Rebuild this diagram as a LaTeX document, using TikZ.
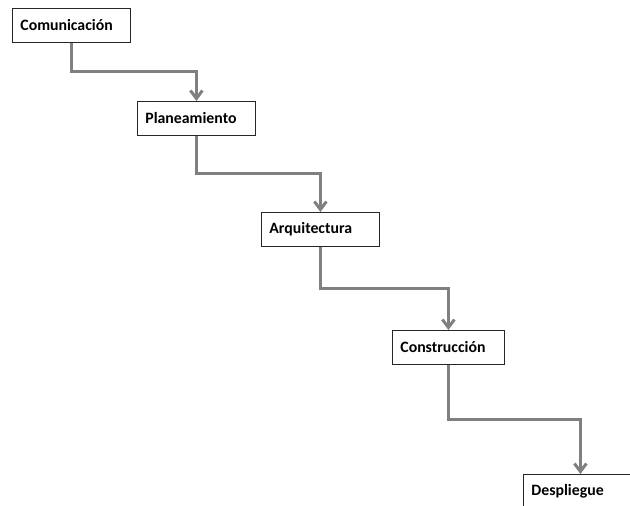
\documentclass[tikz,border=0pt]{standalone}
\usepackage{fontspec}
\setmainfont{Carlito}
\usetikzlibrary{arrows.meta,calc}
\begin{document}
\begin{tikzpicture}[x=1pt, y=-1pt, >={Straight Barb[length=8pt,width=12pt]},
  fase/.style={draw=black!85, line width=.8pt, fill=white, anchor=north west,
    minimum height=34pt, inner xsep=8pt, text width=#1, align=left,
    font=\fontsize{15.8}{18}\selectfont\bfseries},
  fase/.default=102pt,
  flujo/.style={->, draw=black!50, line width=3pt}]
\useasboundingbox (0,0) rectangle (630,506);
\node[fase] (com) at (12,8) {Comunicación};
\node[fase] (plan) at (137,101) {Planeamiento};
\node[fase] (arq) at (261,212) {Arquitectura};
\node[fase=96pt] (cons) at (392,330) {Construcción};
\node[fase=98pt] (desp) at (523,474) {Despliegue};
\foreach \a/\b in {com/plan, plan/arq, arq/cons, cons/desp}
  \draw[flujo] (\a.south) |- ($(\a.south)!.5!(\b.north)$) -| (\b.north);
\end{tikzpicture}
\end{document}
